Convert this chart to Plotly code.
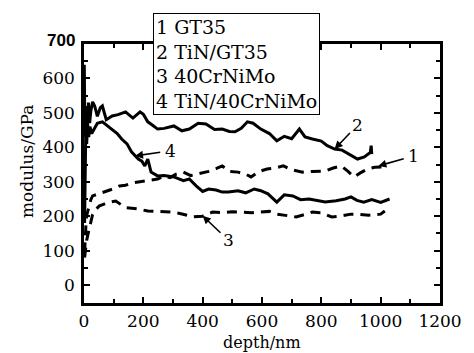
import plotly.graph_objects as go

# Series 1: GT35 (dashed)
d1 = [2, 4, 7, 10, 14, 18, 23, 29, 40, 55, 70, 85, 100, 120, 140, 160, 183, 205, 226, 248, 270, 290, 310, 335, 360, 389, 420, 445, 466, 490, 519, 545, 563, 590, 617, 645, 672, 700, 737, 770, 813, 840, 867, 890, 910, 930, 955, 980, 1008]
v1 = [95, 150, 185, 205, 220, 235, 248, 259, 262, 268, 270, 276, 280, 288, 290, 296, 299, 303, 305, 308, 317, 312, 322, 328, 318, 323, 330, 338, 346, 330, 328, 322, 314, 330, 337, 340, 346, 335, 328, 330, 331, 340, 346, 330, 314, 325, 337, 342, 343]

# Series 2: TiN/GT35 (solid)
d2 = [1, 2, 3, 5, 7, 9, 12, 15, 19, 23, 29, 36, 45, 55, 62, 75, 95, 115, 140, 165, 189, 200, 215, 230, 248, 270, 303, 330, 355, 385, 411, 440, 466, 490, 509, 530, 551, 570, 596, 625, 650, 675, 700, 726, 745, 770, 800, 820, 845, 870, 900, 922, 945, 965, 968, 970]
v2 = [640, 560, 430, 520, 440, 500, 470, 530, 470, 505, 532, 520, 490, 515, 520, 480, 491, 495, 503, 485, 503, 496, 474, 465, 453, 455, 462, 448, 453, 470, 468, 452, 453, 446, 445, 455, 474, 470, 453, 440, 419, 432, 425, 453, 430, 424, 418, 405, 395, 392, 378, 366, 372, 385, 405, 380]

# Series 3: 40CrNiMo (dashed)
d3 = [2, 5, 9, 14, 20, 29, 40, 52, 70, 85, 107, 140, 183, 215, 250, 290, 323, 368, 400, 433, 466, 500, 530, 565, 596, 625, 650, 680, 715, 745, 770, 800, 835, 870, 900, 922, 960, 1000, 1014]
v3 = [80, 105, 130, 150, 172, 205, 220, 230, 236, 241, 244, 225, 221, 215, 214, 212, 208, 198, 200, 212, 210, 213, 212, 210, 212, 214, 206, 203, 198, 205, 212, 210, 198, 201, 206, 206, 203, 206, 215]

# Series 4: TiN/40CrNiMo (solid)
d4 = [2, 4, 6, 9, 12, 16, 20, 26, 35, 45, 62, 80, 95, 112, 127, 145, 160, 172, 183, 195, 205, 215, 226, 248, 270, 303, 335, 355, 378, 400, 420, 445, 466, 487, 519, 545, 574, 596, 620, 650, 675, 704, 730, 759, 785, 813, 850, 880, 900, 920, 943, 970, 1000, 1030]
v4 = [180, 380, 450, 410, 470, 430, 460, 440, 455, 470, 474, 462, 453, 440, 424, 410, 387, 375, 366, 360, 346, 366, 328, 317, 318, 314, 303, 308, 288, 272, 279, 276, 270, 270, 274, 268, 279, 274, 265, 241, 262, 259, 248, 250, 246, 241, 245, 250, 256, 246, 241, 248, 240, 250]

x_ticks = [0, 200, 400, 600, 800, 1000, 1200]
y_ticks = [0, 100, 200, 300, 400, 500, 600, 700]
legend_lines = ["1 GT35", "2 TiN/GT35", "3 40CrNiMo", "4 TiN/40CrNiMo"]

FONT = "DejaVu Serif"
OFF = 8  # default page body margin
W, H = 474 - OFF, 353 - OFF
L, R, T, B = 84 - OFF, 21, 44 - OFF, 50
PW, PH = W - L - R, H - T - B


def px_to_paper(px, py):
    """page pixel -> paper coords"""
    fx, fy = px - OFF, py - OFF
    return (fx - L) / PW, (H - B - fy) / PH


fig = go.Figure()
line_specs = [
    (d1, v1, "dash"),
    (d2, v2, "solid"),
    (d3, v3, "dash"),
    (d4, v4, "solid"),
]
for dx, vy, dash in line_specs:
    fig.add_trace(go.Scatter(
        x=dx, y=vy, mode="lines",
        line=dict(color="black", width=3, dash="10px,7px" if dash == "dash" else "solid"),
        showlegend=False, hoverinfo="skip",
    ))

# number labels with arrows: (label, text_x, text_y, head_x, head_y)
callouts = [
    ("1", 1112, 375, 992, 346),
    ("2", 922, 465, 845, 395),
    ("3", 487, 130, 400, 201),
    ("4", 292, 390, 172, 375),
]
for lab, tx, ty, hx, hy in callouts:
    fig.add_annotation(
        x=hx, y=hy, ax=tx, ay=ty, xref="x", yref="y", axref="x", ayref="y",
        text="", showarrow=True, arrowhead=2, arrowsize=1, arrowwidth=1.6,
        arrowcolor="black", standoff=0, startstandoff=9,
    )
    fig.add_annotation(
        x=tx, y=ty, xref="x", yref="y", text=lab, showarrow=False,
        xanchor="center", yanchor="middle",
        font=dict(family=FONT, size=17, color="black"),
    )

# legend box
lx, ly = px_to_paper(156, 13)
fig.add_annotation(
    xref="paper", yref="paper", x=lx, y=ly,
    xanchor="left", yanchor="top", align="left",
    text="<br>".join(legend_lines), showarrow=False,
    font=dict(family=FONT, size=19, color="black"),
    bgcolor="white", bordercolor="black", borderwidth=1, borderpad=2,
)

# bold top tick label
tx7, ty7 = px_to_paper(77, 40)
fig.add_annotation(
    xref="paper", yref="paper", x=tx7, y=ty7, xanchor="right", yanchor="middle",
    text="<b>700</b>", showarrow=False,
    font=dict(family="Liberation Sans", size=17, color="black"),
)

# axis titles
yx, yy = px_to_paper(25, 162)
fig.add_annotation(
    xref="paper", yref="paper", x=yx, y=yy, text="modulus/GPa", textangle=-90,
    xanchor="center", yanchor="middle",
    showarrow=False, font=dict(family=FONT, size=17, color="black"),
)
xx, xy = px_to_paper(269, 342)
fig.add_annotation(
    xref="paper", yref="paper", x=xx, y=xy, text="depth/nm",
    xanchor="center", yanchor="middle",
    showarrow=False, font=dict(family=FONT, size=16, color="black"),
)

ytext = [str(v) for v in y_ticks]
ytext[-1] = ""

fig.update_layout(
    width=W, height=H,
    margin=dict(l=L, r=R, t=T, b=B),
    paper_bgcolor="white", plot_bgcolor="white",
    font=dict(family=FONT, size=17, color="black"),
    xaxis=dict(
        range=[0, 1200], tickvals=x_ticks, ticktext=[str(v) for v in x_ticks],
        ticks="inside", ticklen=6, tickwidth=2, tickcolor="black",
        ticklabeloverflow="allow", ticklabelstandoff=1,
        minor=dict(dtick=100, tick0=0, ticks="inside", ticklen=4, tickwidth=2, tickcolor="black"),
        showline=True, linewidth=2.5, linecolor="black", mirror="ticks",
        showgrid=False, zeroline=False,
    ),
    yaxis=dict(
        range=[-52, 700], tickvals=y_ticks, ticktext=ytext,
        ticks="inside", ticklen=6, tickwidth=2, tickcolor="black",
        ticklabeloverflow="allow", ticklabelstandoff=3,
        minor=dict(dtick=50, tick0=0, ticks="inside", ticklen=4, tickwidth=2, tickcolor="black"),
        showline=True, linewidth=2.5, linecolor="black", mirror="ticks",
        showgrid=False, zeroline=False,
    ),
)

fig.write_html("out.html")
